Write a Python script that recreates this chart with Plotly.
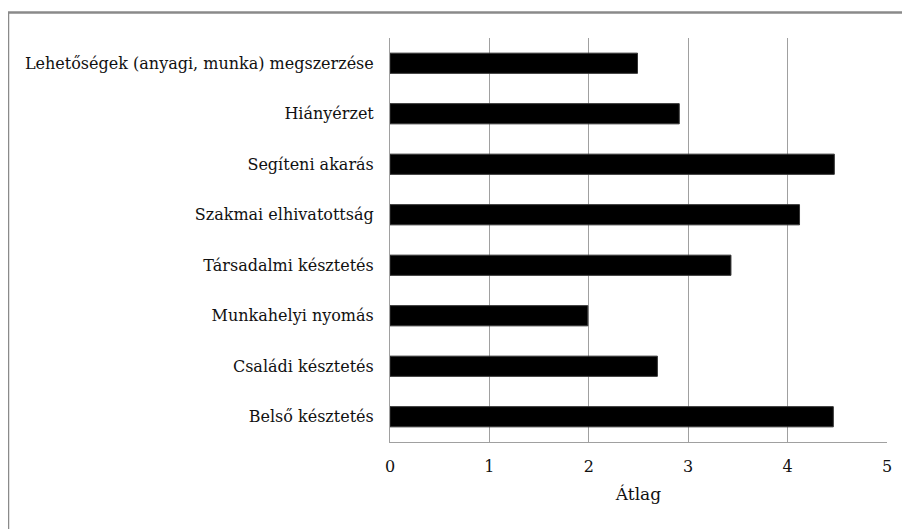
import plotly.graph_objects as go

categories = [
    "Lehetőségek (anyagi, munka) megszerzése",
    "Hiányérzet",
    "Segíteni akarás",
    "Szakmai elhivatottság",
    "Társadalmi késztetés",
    "Munkahelyi nyomás",
    "Családi késztetés",
    "Belső késztetés",
]
values = [2.49, 2.91, 4.47, 4.12, 3.43, 1.99, 2.69, 4.46]
x_ticks = [0, 1, 2, 3, 4, 5]

# page has an 8px body margin, so the figure is a bit smaller than the window
W, H = 902, 521
L, R, T, B = 382, 23, 30, 87

SERIF = "DejaVu Serif"

fig = go.Figure()

fig.add_trace(
    go.Bar(
        x=values,
        y=categories,
        orientation="h",
        width=0.4,
        marker=dict(color="#000000", line=dict(color="#333333", width=1)),
        hovertemplate="%{y}: %{x}<extra></extra>",
    )
)

# outer frame of the chart (pixels -> paper coords)
pw, ph = W - L - R, H - T - B
def px(x):
    return (x - L) / pw
def py(y):
    return (H - B - y) / ph

fig.add_shape(
    type="rect", xref="paper", yref="paper",
    x0=px(0), x1=px(930), y0=py(4.5), y1=py(560),
    line=dict(color="#8a8a8a", width=2.5),
    layer="below",
)

fig.update_layout(
    width=W,
    height=H,
    margin=dict(l=L, r=R, t=T, b=B),
    paper_bgcolor="white",
    plot_bgcolor="white",
    showlegend=False,
    font=dict(family=SERIF, size=16, color="#111111"),
    bargap=0.6,
)

fig.update_xaxes(
    range=[0, 5],
    tickvals=x_ticks,
    showgrid=True,
    gridcolor="#a0a0a0",
    gridwidth=1,
    zeroline=False,
    showline=True,
    linecolor="#a0a0a0",
    linewidth=1,
    mirror=False,
    ticks="",
    ticklabelstandoff=10,
    title=dict(text="Átlag", font=dict(size=17), standoff=12),
)

fig.update_yaxes(
    categoryorder="array",
    categoryarray=categories[::-1],
    showgrid=False,
    zeroline=False,
    showline=True,
    linecolor="#a0a0a0",
    linewidth=1,
    ticks="",
    ticklabelstandoff=12,
)

fig.write_html("out.html")
